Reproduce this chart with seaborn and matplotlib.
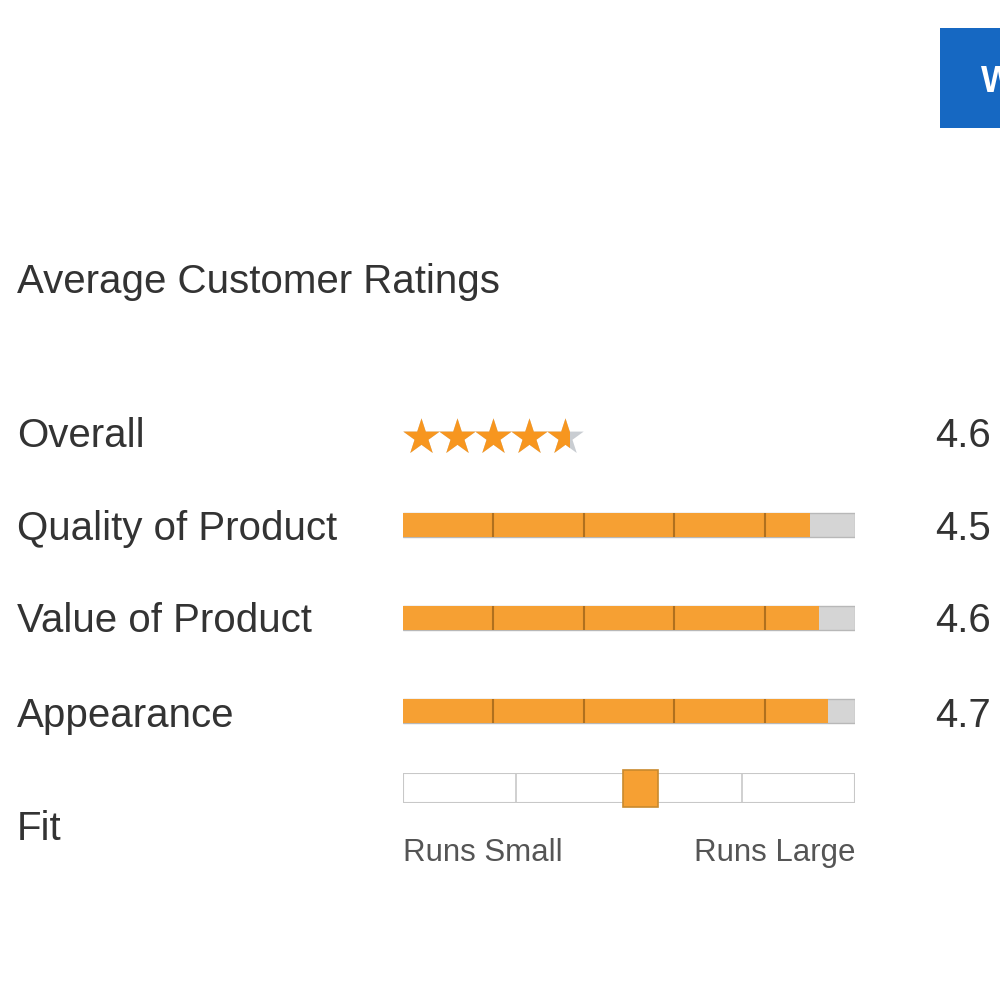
import matplotlib
matplotlib.use('Agg')
import matplotlib.pyplot as plt
import seaborn as sns
import pandas as pd
from matplotlib.patches import Rectangle

# ---- data ----
title = "Average Customer Ratings"
categories = ["Quality of Product", "Value of Product", "Appearance"]
scores = [4.5, 4.6, 4.7]
overall_label = "Overall"
overall_score = 4.6
fit_label = "Fit"
fit_position = 0.525          # fraction of the scale from "Runs Small" to "Runs Large"
fit_ends = ["Runs Small", "Runs Large"]
max_score = 5
button_text = "W"

sns.set_theme(style="white")
plt.rcParams['font.family'] = ['Liberation Sans', 'DejaVu Sans']

ORANGE = "#f6a033"
STAR_ORANGE = "#f7961f"
GREY = "#d5d5d5"
TEXT = "#333333"

fig = plt.figure(figsize=(10, 10), dpi=100)
fig.patch.set_facecolor("white")

# background axes in pixel coordinates for text
bg = fig.add_axes([0, 0, 1, 1])
bg.set_xlim(0, 1000)
bg.set_ylim(1000, 0)
bg.axis('off')

# blue button (partially visible, cut by the right edge as in the reference)
bg.add_patch(Rectangle((940, 28), 80, 100, facecolor="#1668c2", edgecolor="none"))
bg.text(981, 92, button_text, color="white", fontsize=26, fontweight="bold", va="baseline")

bg.text(17, 293, title, color=TEXT, fontsize=29, va="baseline")

row_baselines = [540, 632, 727]
bg.text(17, 447, overall_label, color=TEXT, fontsize=29, va="baseline")
bg.text(935, 447, f"{overall_score:.1f}", color=TEXT, fontsize=29, va="baseline")
for lab, sc, yb in zip(categories, scores, row_baselines):
    bg.text(17, yb, lab, color=TEXT, fontsize=29, va="baseline")
    bg.text(935, yb, f"{sc:.1f}", color=TEXT, fontsize=29, va="baseline")
bg.text(17, 840, fit_label, color=TEXT, fontsize=29, va="baseline")
bg.text(403, 861, fit_ends[0], color="#555555", fontsize=22.5, va="baseline", ha="left")
bg.text(855, 861, fit_ends[1], color="#555555", fontsize=22.5, va="baseline", ha="right")

# ---- rating bars ----
df = pd.DataFrame({"category": categories, "score": scores})
df["full"] = max_score
axb = fig.add_axes([0.403, 0.2425, 0.452, 0.279])
sns.barplot(data=df, x="full", y="category", color=GREY, width=0.26, ax=axb,
            saturation=1, edgecolor="#b8b8b8", linewidth=1, errorbar=None)
sns.barplot(data=df, x="score", y="category", color=ORANGE, width=0.26, ax=axb,
            saturation=1, linewidth=0, errorbar=None)
axb.set_xlim(0, max_score)
axb.set_ylim(len(categories) - 0.5, -0.5)
for i in range(len(categories)):
    axb.vlines(range(1, max_score), i - 0.13, i + 0.13, color="#b0701e", linewidth=1.5)
axb.axis('off')

# ---- overall stars ----
axs = fig.add_axes([0.403, 0.533, 0.18, 0.06])
axs.set_xlim(0, max_score)
axs.set_ylim(-1.5, 1.5)
axs.axis('off')
star_x = [k + 0.5 for k in range(max_score)]
axs.scatter(star_x, [0] * max_score, marker="*", s=760, color="#c9cdd2", linewidths=0)
orange_stars = axs.scatter(star_x, [0] * max_score, marker="*", s=760, color=STAR_ORANGE,
                           linewidths=0)
clip = Rectangle((0, -1.5), overall_score, 3, transform=axs.transData)
orange_stars.set_clip_path(clip)

# ---- fit slider ----
axf = fig.add_axes([0.403, 0.197, 0.452, 0.030])
axf.set_xlim(0, 1)
axf.set_ylim(0, 1)
axf.axis('off')
axf.add_patch(Rectangle((0, 0), 1, 1, facecolor="white", edgecolor="#c8c8c8", linewidth=1.5))
axf.vlines([0.25, 0.5, 0.75], 0, 1, color="#c8c8c8", linewidth=1.2)
mw = 0.077
axf.add_patch(Rectangle((fit_position - mw / 2, -0.13), mw, 1.23, facecolor=ORANGE,
                        edgecolor="#c98a2e", linewidth=1.2, clip_on=False, zorder=3))

fig.savefig("out.png", dpi=100, facecolor="white")
